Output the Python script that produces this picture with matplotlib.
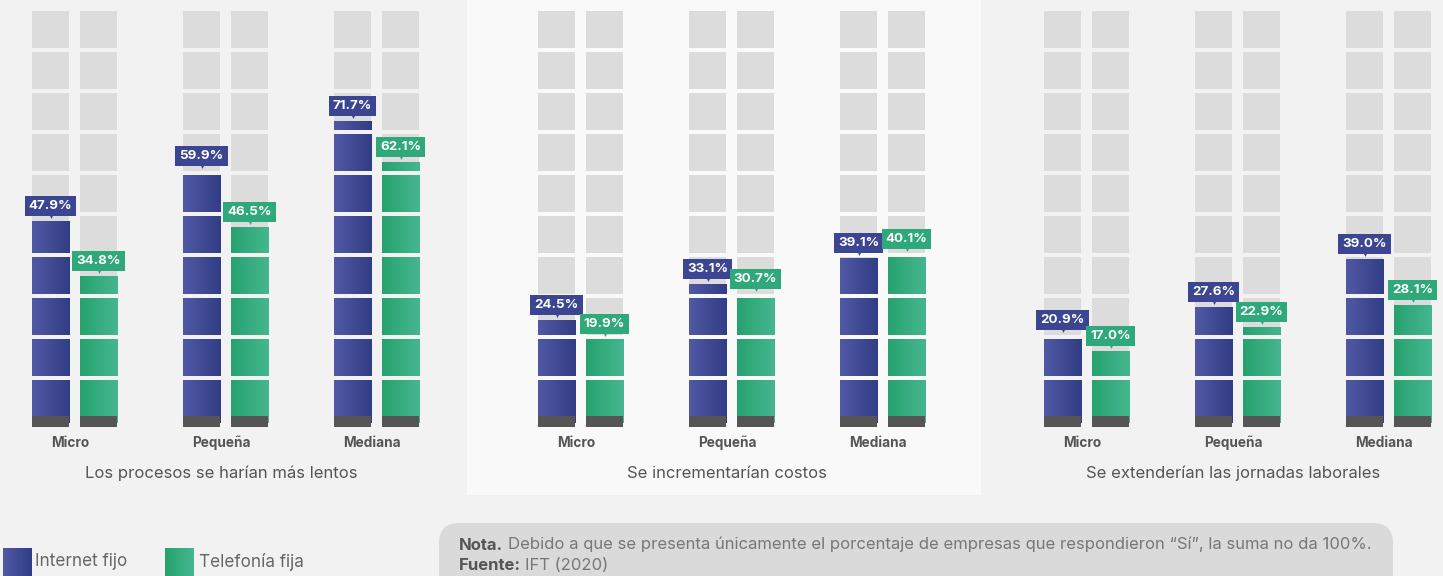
import numpy as np
import matplotlib
matplotlib.use('Agg')
import matplotlib.pyplot as plt
from matplotlib.patches import Rectangle, FancyBboxPatch
from matplotlib.colors import LinearSegmentedColormap
import matplotlib.transforms as mtransforms

# ---------------- data ----------------
categories = ['Micro', 'Pequeña', 'Mediana']
panel_titles = ['Los procesos se harían más lentos',
                'Se incrementarían costos',
                'Se extenderían las jornadas laborales']
internet_fijo = [[47.9, 59.9, 71.7],
                 [24.5, 33.1, 39.1],
                 [20.9, 27.6, 39.0]]
telefonia_fija = [[34.8, 46.5, 62.1],
                  [19.9, 30.7, 40.1],
                  [17.0, 22.9, 28.1]]
series_names = ['Internet fijo', 'Telefonía fija']
note_bold = 'Nota.'
note_text = 'Debido a que se presenta únicamente el porcentaje de empresas que respondieron “Sí”, la suma no da 100%.'
source_bold = 'Fuente:'
source_text = 'IFT (2020)'

# ---------------- style ----------------
plt.rcParams['font.family'] = ['Inter', 'DejaVu Sans']
W, H = 1443, 576
BG = '#f2f2f2'
BG_MID = '#f9f9f9'
GRAY = '#dcdcdc'
DARK = '#555555'
BLUE_BOX = '#3c4592'
GREEN_BOX = '#2fa87a'
blue_cmap = LinearSegmentedColormap.from_list('b', ['#5159a4', '#313d85'])
green_cmap = LinearSegmentedColormap.from_list('g', ['#27a26f', '#46b690'])

fig = plt.figure(figsize=(W / 100, H / 100), dpi=100)
fig.patch.set_facecolor(BG)

# background axes in pixel units
bg = fig.add_axes([0, 0, 1, 1], zorder=0)
bg.set_xlim(0, W)
bg.set_ylim(H, 0)
bg.axis('off')
bg.add_patch(Rectangle((467, 0), 514, 495, color=BG_MID, lw=0))

# geometry helpers (pixels -> data)
AX_H = 430
BASE_PX = 423
PPU_Y = 4.21
PPU_X = 151.0
def py(px):
    return (BASE_PX - px) / PPU_Y

bar_w = 37.5 / PPU_X
off = 24 / PPU_X
grad = np.linspace(0, 1, 64).reshape(1, -1)

def grad_bars(ax, xs, vals, cmap):
    bars = ax.bar(xs, vals, width=bar_w, color=cmap(0.5), lw=0, zorder=2)
    for b in bars:
        x0, y0 = b.get_x(), b.get_y()
        im = ax.imshow(grad, extent=(x0, x0 + b.get_width(), y0, y0 + b.get_height()),
                       aspect='auto', cmap=cmap, zorder=2.1, interpolation='bicubic')
        im.set_clip_path(b)
    return bars

for p in range(3):
    left_px = 506 * p
    width_px = min(506, W - left_px)
    ax = fig.add_axes([left_px / W, (H - AX_H) / H, width_px / W, AX_H / H], zorder=1)
    ax.patch.set_alpha(0)
    panel_bg = BG_MID if p == 1 else BG
    x = np.arange(len(categories))
    xs_b = x - off
    xs_g = x + off
    all_xs = np.concatenate([xs_b, xs_g])

    # grey background columns
    ax.bar(all_xs, py(11) - py(427), bottom=py(427), width=bar_w, color=GRAY, lw=0, zorder=1)
    # coloured bars
    grad_bars(ax, xs_b, internet_fijo[p], blue_cmap)
    grad_bars(ax, xs_g, telefonia_fija[p], green_cmap)
    # tile gaps
    for k in range(9):
        t, b = 48 + 41 * k, 52 + 41 * k
        ax.bar(all_xs, py(t) - py(b), bottom=py(b), width=bar_w + 0.02,
               color=panel_bg, lw=0, zorder=3)
    # dark base strip
    ax.bar(all_xs, py(416) - py(427), bottom=py(427), width=bar_w, color=DARK, lw=0, zorder=4)

    # value labels
    ptr_tr = mtransforms.offset_copy(ax.transData, fig=fig, x=0, y=3.6, units='points')
    for xs, vals, col in ((xs_b, internet_fijo[p], BLUE_BOX), (xs_g, telefonia_fija[p], GREEN_BOX)):
        for xi, v in zip(xs, vals):
            ax.annotate(f'{v:.1f}%', xy=(xi, v), xytext=(0, 10.8), textcoords='offset points',
                        ha='center', va='center', fontsize=9.6, fontweight='bold', color='white',
                        bbox=dict(boxstyle='square,pad=0.3', fc=col, ec='none'), zorder=6)
            ax.plot([xi], [v], marker='v', ms=3.5, color=col, mec='none',
                    transform=ptr_tr, zorder=6, clip_on=False)

    ax.set_xlim(-74.5 / PPU_X, (width_px - 74.5) / PPU_X)
    ax.set_ylim(py(AX_H), py(0))
    ax.set_xticks(x - 0.03)
    ax.set_xticklabels(categories, fontsize=9.8, fontweight='bold', color='#555555', va='baseline')
    ax.tick_params(axis='x', length=0, pad=12.2)
    ax.set_yticks([])
    for s in ax.spines.values():
        s.set_visible(False)
    ax.text(1 - 0.03, -0.1, panel_titles[p],
            transform=mtransforms.blended_transform_factory(ax.transData, ax.transAxes),
            ha='center', va='center', fontsize=12, color='#555555')

# legend
for (lx, tx, name, cmap) in ((3, 35, series_names[0], blue_cmap), (165, 199, series_names[1], green_cmap)):
    r = Rectangle((lx, 548), 29, 30, lw=0, color=cmap(0.5))
    bg.add_patch(r)
    im = bg.imshow(grad, extent=(lx, lx + 29, 578, 548), aspect='auto', cmap=cmap,
                   interpolation='bicubic', zorder=2)
    im.set_clip_path(r)
    bg.text(tx, 562, name, fontsize=12.3, color='#666666', va='center', ha='left')
bg.set_xlim(0, W)
bg.set_ylim(H, 0)

# note box
bg.add_patch(FancyBboxPatch((439, 523), 954, 90, boxstyle='round,pad=0,rounding_size=20',
                            fc='#dadada', ec='none'))
t1 = bg.text(459, 549.5, note_bold, fontsize=12, fontweight='bold', color='#555555', va='baseline')
bg.annotate(note_text, xy=(1, 0), xycoords=t1, xytext=(3.2, 0), textcoords='offset points',
            fontsize=12, color='#777777', va='bottom', ha='left')
t2 = bg.text(459, 570, source_bold, fontsize=12, fontweight='bold', color='#555555', va='baseline')
bg.annotate(source_text, xy=(1, 0), xycoords=t2, xytext=(3.2, 0), textcoords='offset points',
            fontsize=12, color='#777777', va='bottom', ha='left')

fig.savefig('out.png', dpi=100, facecolor=fig.get_facecolor())
